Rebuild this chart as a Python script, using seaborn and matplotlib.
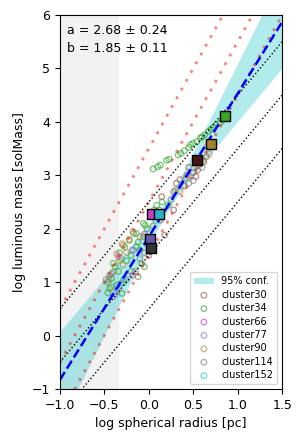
import numpy as np
import matplotlib
matplotlib.use("Agg")
import matplotlib.pyplot as plt
import seaborn as sns

# fit result
fit_a, fit_a_err = 2.68, 0.24
fit_b, fit_b_err = 1.85, 0.11
# width of the 95% band: hw = sqrt((band_k*(x-band_x0))**2 + band_min**2)
band_k, band_x0, band_min = 0.70, 0.25, 0.12

# reference lines
red_slope = 3.0
red_offsets = [3.5, 2.5, 1.5]
black_slope = 2.0
black_offsets = [2.5, 1.5, 0.5]
shade_xmax = -0.33

clusters = ["cluster30", "cluster34", "cluster66", "cluster77",
            "cluster90", "cluster114", "cluster152"]
point_colors = ["#8c564b", "#2ca02c", "#d02fd0", "#7b7bd6",
                "#a8873a", "#7f7f7f", "#17becf"]
mean_colors = ["#4a1414", "#3aa52a", "#c43ac4", "#6258b0",
               "#a2802e", "#333333", "#25b4c6"]

c30_x = [0.58, 0.62, 0.55, 0.43, 0.50, 0.31, 0.35, 0.28, 0.145, 0.28, 0.18, 0.13, 0.00, 0.45, 0.65, 0.40, 0.53]
c30_y = [3.22, 3.25, 3.10, 3.00, 3.05, 2.85, 2.92, 2.69, 2.60, 2.35, 1.88, 2.16, 1.50, 3.15, 3.35, 2.80, 2.98]

c34_x = [0.05, 0.10, 0.13, 0.20, 0.23, 0.33, 0.36, 0.40, 0.45, 0.47, 0.50, 0.54, 0.58, 0.60, 0.63, 0.67, 0.70,
         0.73, 0.76, 0.80, 0.83, 0.09, 0.15, 0.12, -0.06, -0.04, -0.02, -0.14, -0.17, -0.12, -0.14, -0.10, -0.27,
         -0.31, -0.25, -0.20, -0.38, -0.34, -0.42, -0.44, -0.46, -0.46, -0.30, -0.12, -0.05, -0.08, -0.20, -0.28,
         -0.36, 0.02, 0.06, 0.22, -0.22, -0.40, -0.33, -0.06]
c34_y = [3.12, 3.16, 3.19, 3.28, 3.30, 3.38, 3.41, 3.46, 3.52, 3.57, 3.60, 3.63, 3.70, 3.72, 3.76, 3.82, 3.86,
         3.90, 3.95, 3.98, 4.03, 2.44, 2.50, 2.35, 2.10, 2.06, 2.00, 1.91, 1.91, 1.75, 1.66, 1.60, 1.66,
         1.44, 1.40, 1.50, 1.29, 1.20, 1.07, 0.88, 0.80, 1.00, 0.79, 1.10, 1.29, 1.35, 1.20, 1.05,
         0.95, 2.25, 2.35, 2.44, 1.78, 1.35, 1.55, 1.85]

c66_x = [-0.34, -0.18, -0.05]
c66_y = [1.48, 1.13, 1.90]

c77_x = [-0.17, -0.40, -0.37, -0.02, -0.25]
c77_y = [1.60, 0.73, 0.78, 1.70, 1.05]

c90_x = [0.61, 0.66, 0.58, 0.68, 0.56, 0.30, 0.42, -0.30, -0.36, -0.29, -0.40, -0.42, -0.29, -0.22, -0.18,
         -0.25, -0.33, -0.45, 0.05, -0.10, 0.35]
c90_y = [3.28, 3.55, 3.30, 3.40, 3.18, 2.72, 2.95, 1.72, 1.53, 1.32, 1.19, 0.91, 1.69, 1.80, 1.95,
         1.55, 1.40, 1.05, 2.05, 1.85, 2.70]

c114_x = [-0.44, -0.19, -0.10, -0.31, -0.42, -0.48, -0.05, 0.50, 0.45, -0.35, -0.15, 0.60, 0.25]
c114_y = [1.13, 1.60, 1.44, 0.98, 1.16, 1.05, 1.55, 2.90, 2.85, 0.85, 1.20, 3.15, 2.55]

c152_x = [-0.36, -0.28, 0.08]
c152_y = [0.91, 1.00, 2.15]

points_x = [c30_x, c34_x, c66_x, c77_x, c90_x, c114_x, c152_x]
points_y = [c30_y, c34_y, c66_y, c77_y, c90_y, c114_y, c152_y]

# cluster means (squares)
mean_x = [0.54, 0.86, 0.04, 0.01, 0.70, 0.03, 0.12]
mean_y = [3.29, 4.11, 2.27, 1.81, 3.59, 1.63, 2.27]

fig, ax = plt.subplots(figsize=(3.04, 4.43), dpi=100)
fig.subplots_adjust(left=0.197, right=0.928, bottom=0.122, top=0.966)

ax.axvspan(-1, shade_xmax, color="grey", alpha=0.1, lw=0)

xx = np.linspace(-1, 1.5, 200)
fit = fit_a * xx + fit_b
hw = np.sqrt((band_k * (xx - band_x0)) ** 2 + band_min ** 2)
ax.fill_between(xx, fit - hw, fit + hw, color="c", alpha=0.3, lw=0, label="95% conf.")

for off in red_offsets:
    sns.lineplot(x=xx, y=red_slope * xx + off, ax=ax, color="red", alpha=0.5,
                 lw=2, linestyle=(0, (1, 2.6)))
for off in black_offsets:
    sns.lineplot(x=xx, y=black_slope * xx + off, ax=ax, color="k", lw=1, linestyle=":")

sns.lineplot(x=xx, y=fit, ax=ax, color="blue", lw=1.8, linestyle="--")

for name, px, py, col in zip(clusters, points_x, points_y, point_colors):
    sns.scatterplot(x=px, y=py, ax=ax, marker="o", s=16, facecolor="none",
                    edgecolor=col, linewidth=1.0, alpha=0.6, label=name)

for mx, my, col in zip(mean_x, mean_y, mean_colors):
    sns.scatterplot(x=[mx], y=[my], ax=ax, marker="s", s=42, color=col,
                    edgecolor="k", linewidth=1.0, zorder=5)

ax.text(0.03, 0.975, f"a = {fit_a:.2f} ± {fit_a_err:.2f}\nb = {fit_b:.2f} ± {fit_b_err:.2f}",
        transform=ax.transAxes, fontsize=9, va="top", ha="left", linespacing=1.45)

ax.set_xlim(-1, 1.5)
ax.set_ylim(-1, 6)
ax.set_xticks([-1.0, -0.5, 0.0, 0.5, 1.0, 1.5])
ax.set_xlabel("log spherical radius [pc]", fontsize=9)
ax.set_ylabel("log luminous mass [solMass]", fontsize=9)
ax.tick_params(labelsize=9)
ax.legend(loc="lower right", fontsize=7, labelspacing=0.35)

fig.savefig("out.png", dpi=100)
